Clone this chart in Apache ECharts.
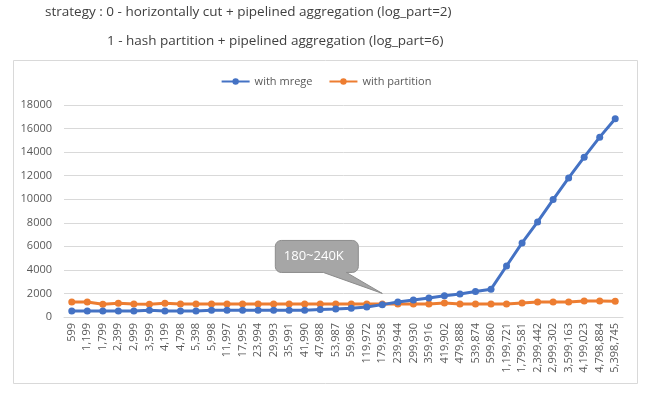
<!DOCTYPE html>
<html>
<head>
<meta charset="utf-8">
<script src="https://cdn.jsdelivr.net/npm/echarts@6/dist/echarts.min.js"></script>
<style>
html,body{margin:0;padding:0;background:#fff;}
#c{width:652px;height:393px;}
</style>
</head>
<body>
<div id="c"></div>
<script>
const categories = ['599','1,199','1,799','2,399','2,999','3,599','4,199','4,798','5,398','5,998','11,997','17,995','23,994','29,993','35,991','41,990','47,988','53,987','59,986','119,972','179,958','239,944','299,930','359,916','419,902','479,888','539,874','599,860','1,199,721','1,799,581','2,399,442','2,999,302','3,599,163','4,199,023','4,798,884','5,398,745'];
const withMrege = [500,500,500,500,500,580,500,500,500,580,580,570,570,570,570,580,640,680,750,850,1050,1280,1450,1620,1800,1960,2160,2360,4330,6290,8070,9970,11810,13570,15270,16830];
const withPartition = [1280,1280,1080,1170,1110,1080,1170,1100,1100,1100,1100,1100,1100,1100,1100,1100,1100,1100,1100,1100,1100,1100,1100,1100,1190,1100,1100,1100,1100,1190,1270,1270,1270,1360,1360,1330];
const seriesNames = ['with mrege','with partition'];
const titleLines = ['strategy : 0 - horizontally cut + pipelined aggregation (log_part=2)','1 - hash partition + pipelined aggregation (log_part=6)'];
const calloutText = '180~240K';
const calloutAnchor = [20, 2000];
const yTicks = {min:0, max:18000, interval:2000};

const FONT = "'Open Sans', 'Noto Sans', sans-serif";
const chart = echarts.init(document.getElementById('c'), null, {renderer:'canvas'});
chart.setOption({
  animation:false,
  backgroundColor:'#fff',
  textStyle:{fontFamily:FONT},
  legend:{
    top:71, left:'center', itemWidth:28, itemHeight:8, itemGap:16,
    textStyle:{fontSize:11, color:'#595959', fontFamily:FONT},
    data:seriesNames
  },
  grid:{left:64, right:29, top:105, bottom:76},
  xAxis:{
    type:'category', data:categories, boundaryGap:true,
    axisLine:{show:true, lineStyle:{color:'#d9d9d9'}},
    axisTick:{show:false},
    axisLabel:{rotate:90, interval:0, fontSize:11, color:'#595959', margin:6, fontFamily:FONT}
  },
  yAxis:{
    type:'value', min:yTicks.min, max:yTicks.max, interval:yTicks.interval,
    axisLine:{show:false}, axisTick:{show:false},
    splitLine:{lineStyle:{color:'#d9d9d9'}},
    axisLabel:{fontSize:11, color:'#595959', margin:12, formatter:v=>String(v), fontFamily:FONT}
  },
  series:[
    {name:seriesNames[0], type:'line', data:withMrege, symbol:'circle', symbolSize:7,
     lineStyle:{width:3, color:'#4472C4'}, itemStyle:{color:'#4472C4'}, z:3},
    {name:seriesNames[1], type:'line', data:withPartition, symbol:'circle', symbolSize:7,
     lineStyle:{width:3, color:'#ED7D31'}, itemStyle:{color:'#ED7D31'}, z:2}
  ]
});

const tip = chart.convertToPixel({xAxisIndex:0, yAxisIndex:0}, calloutAnchor);
const tx = tip[0], ty = tip[1];
const L = tx-107, R = tx-24, T = ty-53, B = ty-21, r = 6;
function arc(cx, cy, a0, a1, pts){
  const n = 6;
  for(let i=0;i<=n;i++){
    const a = a0 + (a1-a0)*i/n;
    pts.push([cx + r*Math.cos(a), cy + r*Math.sin(a)]);
  }
}
const pts = [];
arc(R-r, T+r, -Math.PI/2, 0, pts);
arc(R-r, B-r, 0, Math.PI/2, pts);
pts.push([tx-36, B]);
pts.push([tx, ty]);
pts.push([tx-59, B]);
arc(L+r, B-r, Math.PI/2, Math.PI, pts);
arc(L+r, T+r, Math.PI, Math.PI*1.5, pts);

chart.setOption({
  graphic:[
    {type:'rect', shape:{x:13.5, y:60.5, width:624, height:323}, style:{fill:'none', stroke:'#d9d9d9', lineWidth:1}, z:-1, silent:true},
    {type:'text', x:45, y:12, style:{text:titleLines[0], fontSize:13.5, fill:'#404040', fontFamily:FONT, verticalAlign:'middle'}},
    {type:'text', x:107, y:41, style:{text:titleLines[1], fontSize:13.5, fill:'#404040', fontFamily:FONT, verticalAlign:'middle'}},
    {type:'polygon', shape:{points:pts}, style:{fill:'#a6a6a6', stroke:'#8c8c8c', lineWidth:1}, z:10},
    {type:'text', x:(L+R)/2 - 3, y:(T+B)/2, style:{text:calloutText, fontSize:13, fill:'#fff', align:'center', verticalAlign:'middle', fontFamily:FONT}, z:11}
  ]
});
</script>
</body>
</html>
